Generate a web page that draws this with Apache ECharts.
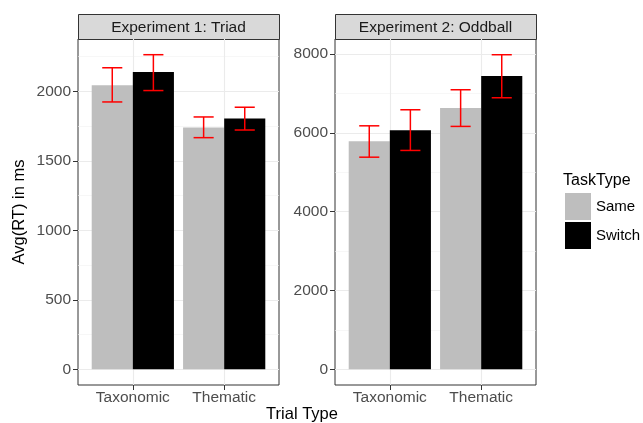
<!DOCTYPE html>
<html><head><meta charset="utf-8">
<script src="https://cdn.jsdelivr.net/npm/echarts@6/dist/echarts.min.js"></script>
<style>html,body{margin:0;padding:0;background:#fff}#c{width:643px;height:423px}</style>
</head><body><div id="c"></div>
<script>
// ---- data ----
const categories = ['Taxonomic', 'Thematic'];
const taskTypes = ['Same', 'Switch'];
const panelTitles = ['Experiment 1: Triad', 'Experiment 2: Oddball'];

const exp1Same = [2045, 1741];
const exp1Switch = [2139, 1804];
const exp1SameLow = [1924, 1667];
const exp1SameHigh = [2170, 1816];
const exp1SwitchLow = [2006, 1722];
const exp1SwitchHigh = [2264, 1886];

const exp2Same = [5789, 6628];
const exp2Switch = [6068, 7441];
const exp2SameLow = [5382, 6163];
const exp2SameHigh = [6178, 7093];
const exp2SwitchLow = [5553, 6890];
const exp2SwitchHigh = [6585, 7982];

const exp1Ticks = [0, 500, 1000, 1500, 2000];
const exp1Minor = [250, 750, 1250, 1750, 2250];
const exp2Ticks = [0, 2000, 4000, 6000, 8000];
const exp2Minor = [1000, 3000, 5000, 7000];

// ---- layout / style ----
const FONT = "'Liberation Sans', Arial, Helvetica, sans-serif";
const panels = [
  { left: 78, ticks: exp1Ticks, minor: exp1Minor, min: -113, max: 2377,
    same: exp1Same, sw: exp1Switch, sLo: exp1SameLow, sHi: exp1SameHigh, wLo: exp1SwitchLow, wHi: exp1SwitchHigh },
  { left: 335, ticks: exp2Ticks, minor: exp2Minor, min: -399, max: 8381,
    same: exp2Same, sw: exp2Switch, sLo: exp2SameLow, sHi: exp2SameHigh, wLo: exp2SwitchLow, wHi: exp2SwitchHigh }
];
const PW = 201, PTOP = 39, PH = 346;
const colors = { Same: '#bebebe', Switch: '#000000' };

function barRender(offset) {
  return function (params, api) {
    const c = api.value(0), v = api.value(1);
    const p0 = api.coord([c + offset - 0.225, v]);
    const p1 = api.coord([c + offset + 0.225, 0]);
    return { type: 'rect', shape: { x: p0[0], y: p0[1], width: p1[0] - p0[0], height: p1[1] - p0[1] },
      style: { fill: api.visual('color') } };
  };
}
function errRender(offset) {
  return function (params, api) {
    const c = api.value(0) + offset, lo = api.value(1), hi = api.value(2);
    const t = api.coord([c, hi]), b = api.coord([c, lo]);
    const l = api.coord([c - 0.11, hi])[0], r = api.coord([c + 0.11, hi])[0];
    const st = { stroke: '#ff0000', lineWidth: 1.5 };
    return { type: 'group', children: [
      { type: 'line', shape: { x1: t[0], y1: t[1], x2: b[0], y2: b[1] }, style: st },
      { type: 'line', shape: { x1: l, y1: t[1], x2: r, y2: t[1] }, style: st },
      { type: 'line', shape: { x1: l, y1: b[1], x2: r, y2: b[1] }, style: st }
    ] };
  };
}

const grid = [], xAxis = [], yAxis = [], series = [], graphic = [];
panels.forEach((p, i) => {
  grid.push({ left: p.left, top: PTOP, width: PW, height: PH, show: true,
    borderColor: '#333333', borderWidth: 1, backgroundColor: '#ffffff', containLabel: false });
  xAxis.push({ gridIndex: i, type: 'value', min: -0.6, max: 1.6, position: 'bottom',
    axisLine: { show: false, onZero: false },
    axisTick: { show: true, length: 5, customValues: [0, 1], lineStyle: { color: '#333333' } },
    axisLabel: { customValues: [0, 1], formatter: v => categories[Math.round(v)],
      color: '#4d4d4d', fontSize: 15.5, fontFamily: FONT, margin: 5 },
    splitLine: { show: true, lineStyle: { color: '#ebebeb', width: 1.1 } } });
  yAxis.push({ gridIndex: i, type: 'value', min: p.min, max: p.max, position: 'left',
    axisLine: { show: false, onZero: false },
    axisTick: { show: true, length: 5, customValues: p.ticks, lineStyle: { color: '#333333' } },
    axisLabel: { customValues: p.ticks, formatter: v => String(v),
      color: '#4d4d4d', fontSize: 15.5, fontFamily: FONT, margin: 7 },
    splitLine: { show: true, lineStyle: { color: '#ebebeb', width: 1.1 } } });
  yAxis.push({ gridIndex: i, type: 'value', min: p.min, max: p.max, position: 'left',
    axisLine: { show: false, onZero: false },
    axisTick: { show: false, customValues: p.minor },
    axisLabel: { show: false },
    splitLine: { show: true, lineStyle: { color: '#f2f2f2', width: 0.6 } } });
  const yi = i * 2;
  series.push({ type: 'custom', name: 'Same', xAxisIndex: i, yAxisIndex: yi,
    itemStyle: { color: colors.Same }, renderItem: barRender(-0.225),
    data: categories.map((c, k) => [k, p.same[k]]) });
  series.push({ type: 'custom', name: 'Switch', xAxisIndex: i, yAxisIndex: yi,
    itemStyle: { color: colors.Switch }, renderItem: barRender(0.225),
    data: categories.map((c, k) => [k, p.sw[k]]) });
  series.push({ type: 'custom', name: 'errSame' + i, xAxisIndex: i, yAxisIndex: yi, z: 3,
    renderItem: errRender(-0.225), data: categories.map((c, k) => [k, p.sLo[k], p.sHi[k]]) });
  series.push({ type: 'custom', name: 'errSwitch' + i, xAxisIndex: i, yAxisIndex: yi, z: 3,
    renderItem: errRender(0.225), data: categories.map((c, k) => [k, p.wLo[k], p.wHi[k]]) });
  graphic.push({ type: 'rect', shape: { x: p.left + 0.5, y: 14.5, width: PW, height: 25 },
    style: { fill: '#d9d9d9', stroke: '#333333', lineWidth: 1 } });
  graphic.push({ type: 'text', x: p.left + PW / 2, y: 27.5,
    style: { text: panelTitles[i], font: '15.5px ' + FONT, fill: '#1a1a1a', align: 'center', verticalAlign: 'middle' } });
});
graphic.push({ type: 'text', x: 19, y: 212, rotation: Math.PI / 2,
  style: { text: 'Avg(RT) in ms', font: '16.5px ' + FONT, fill: '#000', align: 'center', verticalAlign: 'middle' } });
graphic.push({ type: 'text', x: 302, y: 414,
  style: { text: 'Trial Type', font: '16.5px ' + FONT, fill: '#000', align: 'center', verticalAlign: 'middle' } });
graphic.push({ type: 'text', x: 563, y: 181,
  style: { text: 'TaskType', font: '16px ' + FONT, fill: '#000', align: 'left', verticalAlign: 'middle' } });

const chart = echarts.init(document.getElementById('c'), null, { renderer: 'canvas' });
chart.setOption({
  animation: false,
  backgroundColor: '#ffffff',
  grid, xAxis, yAxis, series, graphic,
  legend: {
    data: taskTypes.map(t => ({ name: t, icon: 'rect', itemStyle: { color: colors[t] } })),
    orient: 'vertical', left: 560, top: 188, itemWidth: 26, itemHeight: 27, itemGap: 2,
    selectedMode: false,
    textStyle: { fontSize: 15, fontFamily: FONT, color: '#000' }
  }
});
</script></body></html>
